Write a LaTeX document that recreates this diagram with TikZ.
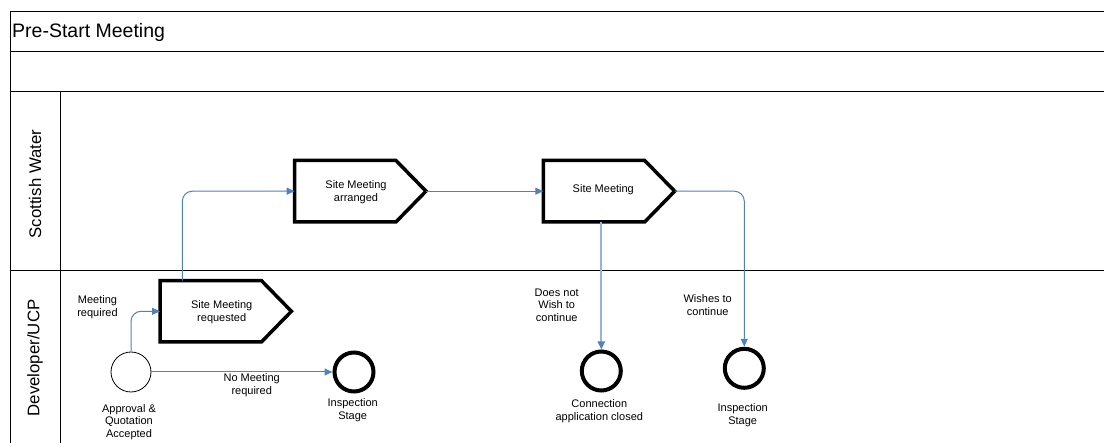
\documentclass[tikz,border=0pt]{standalone}
\usepackage{fontspec}
\setmainfont{Liberation Sans}
\usetikzlibrary{arrows.meta,calc}
\definecolor{flowblue}{HTML}{4F81BD}
\definecolor{flowlight}{HTML}{95B3D7}
\tikzset{
  lane/.style={draw=black,line width=1pt},
  proc/.style={draw=none,minimum width=131pt,minimum height=61pt,inner sep=0pt,font=\fontsize{11}{12.7}\selectfont,align=center},
  chev/.style={draw=black,line width=3.5pt,line join=miter},
  startev/.style={circle,draw=black,line width=0.8pt,minimum size=40pt,inner sep=0pt},
  endev/.style={circle,draw=black,line width=4pt,minimum size=39pt,inner sep=0pt},
  lbl/.style={font=\fontsize{11}{12.7}\selectfont,align=center,inner sep=0pt},
  flow/.style={draw=flowblue,line width=1pt,-{Triangle[length=8pt,width=7pt]},rounded corners=10pt},
  flowl/.style={draw=flowlight,line width=2pt,-{Triangle[length=8pt,width=7pt,color=flowblue]}},
}
\newcommand\chevron[1]{\draw[chev] (#1.north west) -- ([xshift=-30pt]#1.north east) -- (#1.east) -- ([xshift=-30pt]#1.south east) -- (#1.south west) -- cycle;}
\begin{document}
\begin{tikzpicture}[x=1pt,y=-1pt]
\useasboundingbox (0,0) rectangle (1104,443);
% frame
\draw[lane] (10,443) -- (10,12) -- (1104,12);
\draw[lane] (10,52) -- (1104,52);
\draw[lane] (10,92) -- (1104,92);
\draw[lane] (10,271) -- (1104,271);
\draw[lane] (60,92) -- (60,443);
\node[anchor=west,font=\fontsize{19.5}{21}\selectfont,inner sep=0pt] (title) at (12,32) {Pre-Start Meeting};
\node[rotate=90,font=\fontsize{16.8}{18}\selectfont,inner sep=0pt] (sw) at (35,184) {Scottish Water};
\node[rotate=90,font=\fontsize{16.8}{18}\selectfont,inner sep=0pt] (dev) at (35,358) {Developer/UCP};
% process nodes
\node[proc] (req) at (225.7,311.3) {};
\node[lbl] (reqt) at (221.7,312.5) {Site Meeting\\requested};
\node[proc] (arr) at (360.3,191.2) {};
\node[lbl] (arrt) at (356,192.5) {Site Meeting\\arranged};
\node[proc] (sm) at (609,191.2) {};
\node[lbl] (smt) at (603.3,189.5) {Site Meeting};
\chevron{req}
\chevron{arr}
\chevron{sm}
% events
\node[startev] (start) at (131,372) {};
\node[endev] (insp1) at (354,372) {};
\node[endev] (closed) at (601.3,371) {};
\node[endev] (insp2) at (744.3,368.3) {};
% labels
\node[lbl] (l1) at (97.5,307) {Meeting\\required};
\node[lbl] (l2) at (251.7,385) {No Meeting\\required};
\node[lbl] (l3) at (129,422) {Approval \&\\Quotation\\Accepted};
\node[lbl] (l4) at (352.7,410) {Inspection\\Stage};
\node[lbl] (l5) at (556.7,305) {Does not\\Wish to\\continue};
\node[lbl] (l6) at (707.7,305) {Wishes to\\continue};
\node[lbl] (l7) at (599.3,411) {Connection\\application closed};
\node[lbl] (l8) at (742.7,415) {Inspection\\Stage};
% connectors
\draw[flow] (start.north) |- (req.west);
\draw[flow] (start.east) -- (insp1.west);
\draw[flow] ([xshift=22.3pt]req.north west) |- (arr.west);
\draw[flow] (arr.east) -- (sm.west);
\draw[flowl] (sm.south -| closed.north) -- (closed.north);
\draw[flow] (sm.east) -| (insp2.north);
\end{tikzpicture}
\end{document}
